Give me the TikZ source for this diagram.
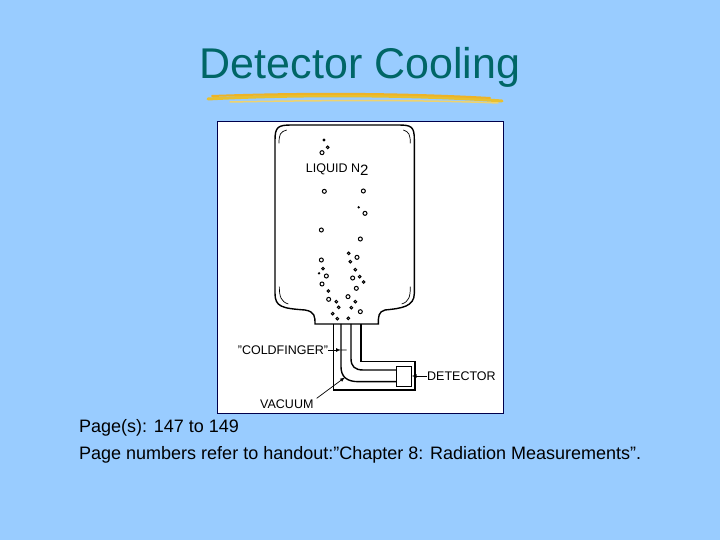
\documentclass[tikz,border=0pt]{standalone}
\usepackage{fontspec}
\setmainfont{Liberation Sans}
\definecolor{bg}{HTML}{99CCFF}
\definecolor{ttl}{HTML}{006666}
\definecolor{brush}{HTML}{E8C030}
\begin{document}
\begin{tikzpicture}[x=1pt,y=-1pt,
  lab/.style={font=\fontsize{12.5}{14}\selectfont, inner sep=0pt},
  ln/.style={line width=1.4pt},
  bub/.style={line width=1pt}]
\fill[bg] (0,0) rectangle (720,540);
\useasboundingbox (0,0) rectangle (720,540);
\node[text=ttl, font=\fontsize{43}{46}\selectfont] (title) at (360,67) {Detector Cooling};
\draw[brush, line width=3pt, line cap=round] (208,99) .. controls (300,94) and (420,95) .. (502,101);
\draw[brush!80!orange, line width=2pt, line cap=round] (212,96) .. controls (320,92) and (420,94) .. (490,98);
\draw[brush!70!white, line width=1.5pt, line cap=round] (230,102) .. controls (330,100) and (430,100) .. (498,103);
\node[draw=black!70!blue, fill=white, minimum width=286pt, minimum height=292pt, inner sep=0pt, line width=0.6pt] (img) at (360,267) {};
\begin{scope}[shift={(215,120)}, scale=1/3]
\draw[ln] (180,60) .. controls (180,20) and (190,15) .. (230,15) -- (550,15) .. controls (590,15) and (598,20) .. (598,60)
  -- (598,520) .. controls (598,560) and (560,565) .. (510,570) .. controls (490,575) and (490,590) .. (490,612)
  -- (300,612) .. controls (300,590) and (300,575) .. (270,570) .. controls (200,565) and (180,560) .. (180,520) -- cycle;
\draw[line width=0.7pt] (192,70) .. controls (192,45) and (195,35) .. (215,30)
  (565,30) .. controls (582,35) and (586,45) .. (586,70)
  (193,500) .. controls (193,530) and (198,545) .. (220,552)
  (586,500) .. controls (586,530) and (582,545) .. (560,552);
\draw[ln] (438,612) -- (438,725) -- (600,725) -- (600,810) -- (355,810) -- (355,612);
\draw[ln] (378,612) -- (378,740) .. controls (378,770) and (395,785) .. (430,785) -- (545,785);
\draw[ln] (408,612) -- (408,715) .. controls (408,740) and (420,750) .. (445,750) -- (545,750);
\draw[ln] (545,740) rectangle (590,800);
\foreach \x/\y/\r in {327/60/3,338/82/4,321/98/6,328/214/6,445/213/6,450/280/6,319/330/6,436/357/6,401/400/4,426/412/6,406/425/4,319/420/6,324/446/4,334/468/6,421/449/4,413/474/6,434/470/4,446/486/4,321/492/6,424/505/6,340/513/4,399/530/6,341/538/6,364/545/4,421/545/4,371/562/4,409/563/4,436/575/6,353/581/4,367/596/4,400/595/4}
  {\draw[bub] (\x,\y) circle[radius=\r];}
\fill (431,262) circle[radius=4]; \fill (312,460) circle[radius=4];
\node[lab, anchor=west] (liq) at (272,148) {LIQUID N\raisebox{-0.5ex}{\fontsize{15}{15}\selectfont 2}};
\node[lab, anchor=east] (cf) at (340,690) {\symbol{34}COLDFINGER\symbol{34}};
\coordinate (cft) at (378,690);
\draw[line width=0.7pt, -latex] (cf.east) -- (cft);
\draw[line width=0.7pt] (cft) -- (395,690);
\node[lab, anchor=west] (det) at (636,768) {DETECTOR};
\coordinate (dett) at (590,768);
\draw[line width=0.7pt, -latex] (det.west) -- (dett);
\node[lab, anchor=west] (vac) at (135,852) {VACUUM};
\coordinate (vact) at (390,772);
\draw[line width=0.7pt, -latex] (305,835) -- (vact);
\end{scope}
\node[anchor=west, font=\fontsize{18}{20}\selectfont, inner sep=0pt] (p1) at (79,428) {Page(s): 147 to 149};
\node[anchor=west, font=\fontsize{18}{20}\selectfont, inner sep=0pt] (p2) at (79,455) {Page numbers refer to handout:”Chapter 8: Radiation Measurements”.};
\end{tikzpicture}
\end{document}
